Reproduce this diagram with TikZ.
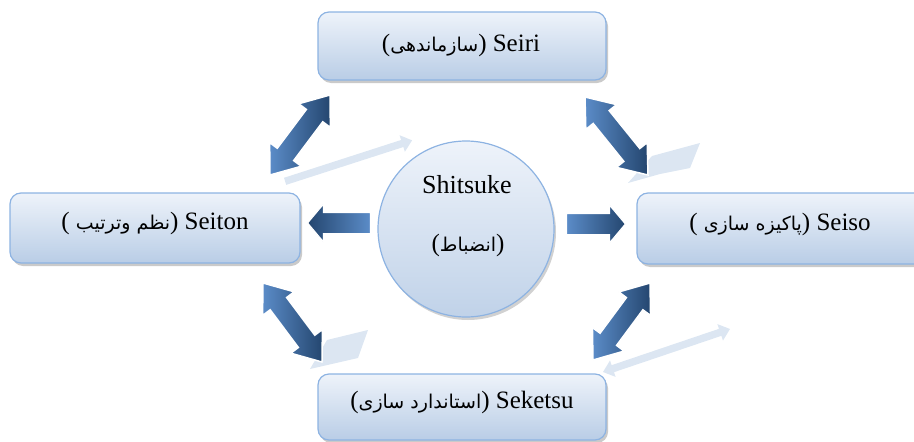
\documentclass[tikz,border=0pt]{standalone}
\usepackage{fontspec}
\setmainfont{Liberation Serif}
\newfontfamily\fa[Script=Arabic]{DejaVu Sans}
\TeXXeTstate=1
\usetikzlibrary{shapes.arrows,shadows,calc}
\definecolor{boxline}{HTML}{8DB3E2}
\definecolor{boxtop}{HTML}{EEF3FA}
\definecolor{boxbot}{HTML}{B9CDE6}
\definecolor{arlight}{HTML}{5B8CC8}
\definecolor{ardark}{HTML}{24466F}
\definecolor{refl}{HTML}{DCE6F2}

\newcommand\fatext[1]{{\fa\fontsize{19}{22}\selectfont\beginR #1\endR}}
\newcommand\arrowlink[4]{%
  \path let \p1=(#2), \p2=(#3),
    \n1={atan2(\y2-\y1,\x2-\x1)},
    \n2={veclen(\x2-\x1,\y2-\y1)} in
    node[#1, rotate=\n1, minimum height=\n2] (#4) at ($(\p1)!0.5!(\p2)$) {};%
}

\tikzset{
  box/.style={draw=boxline, line width=1.2pt, rounded corners=11pt,
    top color=boxtop, bottom color=boxbot,
    drop shadow={shadow xshift=2pt, shadow yshift=-3pt, opacity=0.35, fill=black!60}},
  hub/.style={circle, draw=boxline, line width=1.2pt,
    top color=boxtop, bottom color=boxbot!90!white, minimum size=176pt,
    drop shadow={shadow xshift=2pt, shadow yshift=-3pt, opacity=0.3, fill=black!60}},
  lbl/.style={font=\fontsize{25}{30}\selectfont, inner sep=0pt},
  dbl/.style={shape=double arrow, double arrow head extend=9.5pt, double arrow tip angle=75,
    inner xsep=0pt, inner ysep=9.5pt, draw=white, line width=1.5pt,
    left color=arlight, right color=ardark},
  sgl/.style={shape=single arrow, single arrow head extend=8.5pt, single arrow tip angle=100,
    inner xsep=0pt, inner ysep=10pt, draw=white, line width=1.2pt},
  reflarrow/.style={shape=single arrow, single arrow head extend=5pt, single arrow tip angle=80,
    inner xsep=0pt, inner ysep=3.5pt, fill=refl},
  refldbl/.style={shape=double arrow, double arrow head extend=5pt, double arrow tip angle=80,
    inner xsep=0pt, inner ysep=3.5pt, fill=refl},
  reflshape/.style={fill=refl}
}

\begin{document}
\begin{tikzpicture}[x=1pt,y=-1pt]
\useasboundingbox (0,0) rectangle (914,442);

% faint reflections
\coordinate (r1a) at (283,182); \coordinate (r1b) at (410,141);
\arrowlink{reflarrow}{r1a}{r1b}{refl1}
\coordinate (r4a) at (603,372); \coordinate (r4b) at (730,329);
\arrowlink{refldbl}{r4a}{r4b}{refl4}
\fill[reflshape] (628,183) -- (652,156) -- (700,143) -- (690,168) -- (660,174) -- cycle;
\fill[reflshape] (310,369) -- (327,340) -- (368,330) -- (358,358) -- cycle;

% boxes
\node[box, minimum width=288pt, minimum height=68pt] (seiri) at (462,46) {};
\node[box, minimum width=290pt, minimum height=70pt] (seiton) at (155,228) {};
\node[box, minimum width=293pt, minimum height=71pt] (seiso) at (783.5,228.5) {};
\node[box, minimum width=288pt, minimum height=66pt] (seketsu) at (462,407) {};
\node[hub] (shitsuke) at (466,229) {};

% labels
\node[lbl] (seiriT) at (461,45) {(\fatext{سازماندهی}) Seiri};
\node[lbl] (seitonT) at (155,223) {( \fatext{نظم وترتیب}) Seiton};
\node[lbl] (seisoT) at (780,224) {( \fatext{پاکیزه سازی}) Seiso};
\node[lbl] (seketsuT) at (462,402) {(\fatext{استاندارد سازی}) Seketsu};
\node[lbl, font=\fontsize{26}{30}\selectfont] (shitsukeT) at (467,185) {Shitsuke};
\node[lbl] (shitsukeP) at (468,245) {(\fatext{انضباط})};

% arrows
\coordinate (tlA) at (330,95);  \coordinate (tlB) at (270,175);
\coordinate (trA) at (585,97);  \coordinate (trB) at (648,175);
\coordinate (blA) at (263,283); \coordinate (blB) at (322,362);
\coordinate (brA) at (650,283); \coordinate (brB) at (593,360);
\coordinate (lA) at (375,223);  \coordinate (lB) at (312,223);
\coordinate (rA) at (562,224);  \coordinate (rB) at (621,224);
\arrowlink{dbl}{tlA}{tlB}{arTL}
\arrowlink{dbl}{trA}{trB}{arTR}
\arrowlink{dbl}{blA}{blB}{arBL}
\arrowlink{dbl}{brA}{brB}{arBR}
\arrowlink{sgl, left color=ardark, right color=arlight}{lA}{lB}{arL}
\arrowlink{sgl, left color=arlight, right color=ardark}{rA}{rB}{arR}
\end{tikzpicture}
\end{document}
